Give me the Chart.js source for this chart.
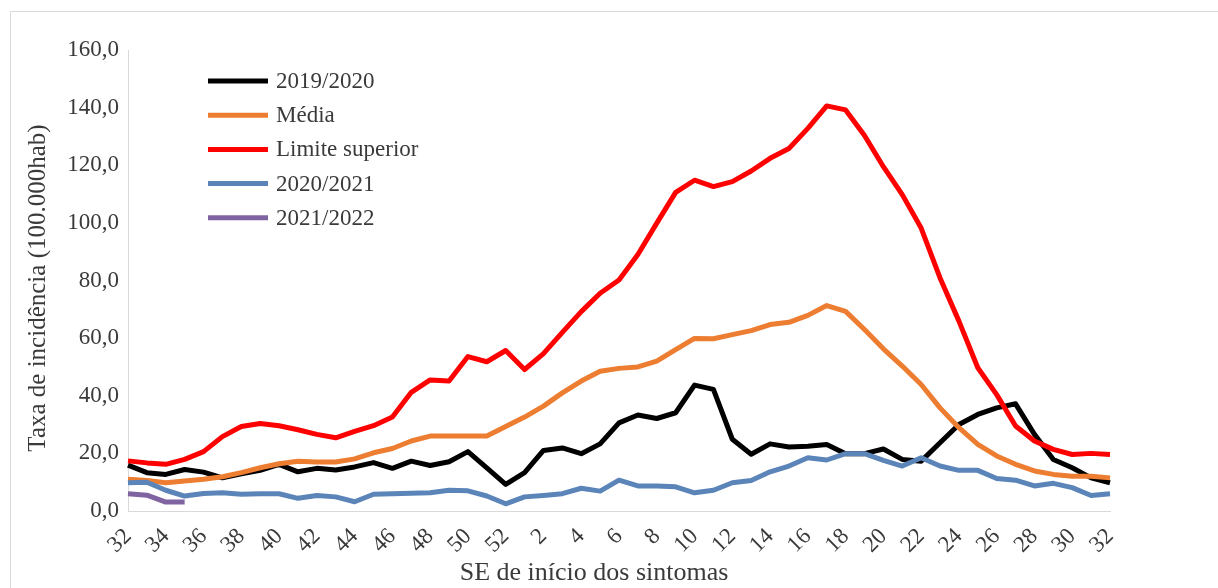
<!DOCTYPE html>
<html><head><meta charset="utf-8">
<script src="https://cdn.jsdelivr.net/npm/chart.js@4/dist/chart.umd.min.js"></script>
<style>html,body{margin:0;padding:0;background:#fff}#wrap{width:1218px;height:588px;position:relative}</style>
</head><body><div id="wrap"><canvas id="c" width="1218" height="588"></canvas></div>
<script>
const weekLabels = ['32','33','34','35','36','37','38','39','40','41','42','43','44','45','46','47','48','49','50','51','52',
  '1','2','3','4','5','6','7','8','9','10','11','12','13','14','15','16','17','18','19','20','21','22','23','24','25','26','27','28','29','30','31','32'];

const s2019_2020 = [15.9,13.3,12.7,14.4,13.5,11.5,12.9,14.1,16.2,13.6,14.8,14.2,15.3,16.8,14.8,17.3,15.8,17.1,20.6,15.0,9.2,
  13.3,21.0,21.9,19.9,23.3,30.6,33.3,32.1,34.1,43.7,42.2,24.9,19.7,23.3,22.2,22.5,23.1,19.9,19.9,21.5,17.9,17.3,23.7,30.0,33.5,35.8,37.2,26.6,17.9,15.0,11.5,9.8];
const media = [11.0,10.6,9.8,10.4,11.0,11.9,13.3,15.0,16.4,17.3,17.0,17.0,18.1,20.2,21.7,24.3,26.0,26.0,26.0,26.0,29.3,
  32.6,36.4,41.0,45.1,48.5,49.5,50.0,52.0,56.0,59.9,59.8,61.2,62.6,64.7,65.5,67.9,71.3,69.3,63.0,56.3,50.3,43.9,35.8,28.9,23.1,19.1,16.2,13.9,12.7,12.1,12.1,11.5];
const limiteSuperior = [17.4,16.7,16.2,17.9,20.6,25.8,29.3,30.4,29.6,28.2,26.6,25.4,27.6,29.6,32.6,41.2,45.5,45.1,53.6,51.8,55.7,
  49.1,54.6,62.0,69.2,75.6,80.2,89.0,99.9,110.6,114.8,112.6,114.3,118.0,122.4,125.8,132.8,140.6,139.2,130.3,119.5,109.8,98.2,80.9,65.9,49.7,40.4,29.5,24.3,21.4,19.6,20.0,19.6];
const s2020_2021 = [9.8,10.0,7.2,5.2,6.1,6.3,5.8,6.0,6.0,4.4,5.4,4.9,3.2,5.8,6.0,6.2,6.3,7.2,7.0,5.2,2.5,
  4.9,5.4,6.0,7.9,6.9,10.7,8.7,8.7,8.4,6.3,7.2,9.8,10.6,13.6,15.6,18.5,17.7,19.9,19.9,17.6,15.6,18.5,15.6,14.1,14.1,11.3,10.7,8.7,9.6,8.1,5.4,6.0];
const s2021_2022 = [6.0,5.5,3.1,3.1];

const seriesNames = ['2019/2020','Média','Limite superior','2020/2021','2021/2022'];
const seriesColors = ['#000000','#ED7D31','#FF0000','#5B85B8','#8064A2'];
const seriesData = [s2019_2020, media, limiteSuperior, s2020_2021, s2021_2022];
const yTicks = [0,20,40,60,80,100,120,140,160];
const xTitle = 'SE de início dos sintomas';
const yTitle = 'Taxa de incidência (100.000hab)';

const FONT = "'Liberation Serif','Times New Roman',serif";
const TXT = '#3a3a3a';

const decor = {
  id: 'decor',
  beforeDraw(chart) {
    const ctx = chart.ctx;
    ctx.save();
    ctx.fillStyle = '#fff';
    ctx.fillRect(0, 0, chart.width, chart.height);
    ctx.strokeStyle = '#d9d9d9';
    ctx.lineWidth = 1;
    ctx.beginPath();
    ctx.moveTo(10.5, 600); ctx.lineTo(10.5, 11.5); ctx.lineTo(1230, 11.5);
    ctx.stroke();
    ctx.restore();
  },
  afterDraw(chart) {
    const ctx = chart.ctx;
    ctx.save();
    chart.data.datasets.forEach((ds, i) => {
      const y = 81 + 34.2 * i;
      ctx.strokeStyle = ds.borderColor;
      ctx.lineWidth = 5;
      ctx.lineCap = 'butt';
      ctx.beginPath(); ctx.moveTo(208, y); ctx.lineTo(268, y); ctx.stroke();
      ctx.fillStyle = TXT;
      ctx.font = '23px ' + FONT;
      ctx.textAlign = 'left';
      ctx.textBaseline = 'middle';
      ctx.fillText(ds.label, 276, y + 1);
    });
    ctx.fillStyle = TXT;
    ctx.font = '26px ' + FONT;
    ctx.textAlign = 'center';
    ctx.textBaseline = 'middle';
    ctx.fillText(xTitle, 594, 573);
    ctx.translate(38, 288);
    ctx.rotate(-Math.PI / 2);
    ctx.font = '25px ' + FONT;
    ctx.fillText(yTitle, 0, 0);
    ctx.restore();
  }
};

new Chart(document.getElementById('c'), {
  type: 'line',
  data: {
    labels: weekLabels,
    datasets: seriesData.map((d, i) => ({
      label: seriesNames[i],
      data: d,
      borderColor: seriesColors[i],
      backgroundColor: seriesColors[i],
      borderWidth: 5,
      pointRadius: 0,
      pointHoverRadius: 0,
      tension: 0,
      fill: false,
      borderJoinStyle: 'round',
      borderCapStyle: 'butt',
      order: 5 - i
    }))
  },
  options: {
    responsive: false,
    devicePixelRatio: 1,
    animation: false,
    layout: { padding: { top: 50, right: 108, left: 0, bottom: 0 } },
    plugins: { legend: { display: false }, tooltip: { enabled: false } },
    scales: {
      x: {
        type: 'category',
        offset: false,
        grid: { display: false },
        border: { display: true, color: '#d9d9d9', width: 1 },
        ticks: {
          autoSkip: false,
          minRotation: 45,
          maxRotation: 45,
          padding: 4,
          color: TXT,
          font: { family: FONT, size: 23 },
          callback: (v, i) => (i % 2 === 0 ? weekLabels[i] : '')
        },
        afterFit: s => { s.height = 77; }
      },
      y: {
        min: 0,
        max: 160,
        grid: { display: false },
        border: { display: true, color: '#d9d9d9', width: 1 },
        afterBuildTicks: s => { s.ticks = yTicks.map(v => ({ value: v })); },
        ticks: {
          padding: 1,
          color: TXT,
          font: { family: FONT, size: 23 },
          callback: v => v.toFixed(1).replace('.', ',')
        },
        afterFit: s => { s.width = 128; }
      }
    }
  },
  plugins: [decor]
});
</script>
</body></html>
